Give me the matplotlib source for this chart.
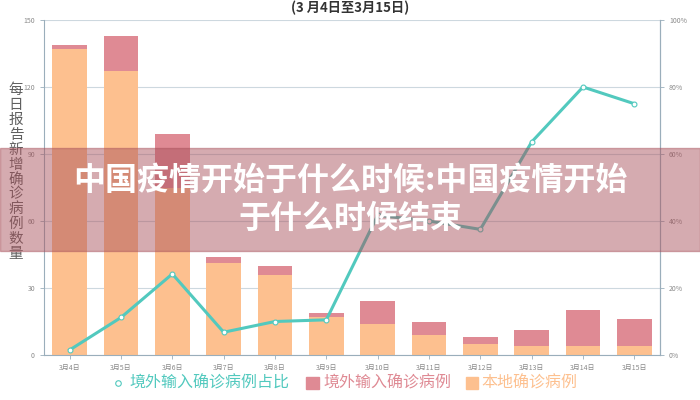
import matplotlib
matplotlib.use("Agg")
import matplotlib.pyplot as plt
from matplotlib.patches import Rectangle
from matplotlib.lines import Line2D
from matplotlib.ticker import FuncFormatter

plt.rcParams['font.family'] = ['Noto Sans CJK SC', 'DejaVu Sans']

dates = ["3月4日", "3月5日", "3月6日", "3月7日", "3月8日", "3月9日",
         "3月10日", "3月11日", "3月12日", "3月13日", "3月14日", "3月15日"]
local_cases = [137, 127, 75, 41, 36, 17, 14, 9, 5, 4, 4, 4]
imported_cases = [2, 16, 24, 3, 4, 2, 10, 6, 3, 7, 16, 12]
imported_share = [1.5, 11.2, 24.2, 6.8, 10.0, 10.5, 41.7, 40.0, 37.5, 63.6, 80.0, 75.0]
left_ticks = [0, 30, 60, 90, 120, 150]
right_ticks = [0, 20, 40, 60, 80, 100]

c_local = "#FDC08F"
c_imp = "#DF8A94"
c_line = "#52C9BE"
c_grid = "#CDD8DF"
c_axis = "#9AAEBB"
c_tick = "#8A8A8A"

fig = plt.figure(figsize=(7, 4), dpi=100)
ax = fig.add_axes([44/700, 1-355/400, (660-44)/700, (355-20)/400])
x = list(range(len(dates)))
ax.bar(x, local_cases, width=0.68, color=c_local, zorder=2)
ax.bar(x, imported_cases, bottom=local_cases, width=0.68, color=c_imp, zorder=2)
ax.set_xlim(-0.5, len(dates)-0.5)
ax.set_ylim(0, 150)
ax.set_yticks(left_ticks)
ax.set_xticks(x)
ax.set_xticklabels(dates)
ax.tick_params(axis='both', labelsize=5, colors=c_tick, length=3, width=0.6)
ax.tick_params(axis='y', colors=c_axis, labelcolor=c_tick)
ax.tick_params(axis='x', colors=c_axis, labelcolor=c_tick)
ax.grid(axis='y', color=c_grid, linewidth=0.8, zorder=0)
ax.set_axisbelow(True)
ax.spines['top'].set_visible(False)
for s in ['left', 'right', 'bottom']:
    ax.spines[s].set_color(c_axis)
    ax.spines[s].set_linewidth(0.8)

ax2 = ax.twinx()
ax2.plot(x, imported_share, color=c_line, linewidth=2.2, marker='o', markersize=3.5,
         markerfacecolor='white', markeredgecolor=c_line, markeredgewidth=0.8, zorder=3)
ax2.set_ylim(0, 100)
ax2.set_yticks(right_ticks)
ax2.yaxis.set_major_formatter(FuncFormatter(lambda v, p: f"{int(v)}%"))
ax2.tick_params(axis='y', labelsize=5, colors=c_axis, labelcolor=c_tick, length=3, width=0.6)
ax2.spines['top'].set_visible(False)
ax2.spines['left'].set_visible(False)
ax2.spines['bottom'].set_visible(False)
ax2.spines['right'].set_color(c_axis)
ax2.spines['right'].set_linewidth(0.8)

# vertical y label
fig.text(16/700, 1-172/400, "\n".join("每日报告新增确诊病例数量"), ha='center', va='center',
         fontsize=10.5, color="#606060", linespacing=1.08)

# title (partly cut in reference)
fig.text(350/700, 1-0.5/400, "(3 月4日至3月15日)", ha='center', va='top',
         fontsize=9.5, fontweight='bold', color="#333333")

# legend
ly = 1-383/400
fig.lines.append(Line2D([118/700], [ly], transform=fig.transFigure, marker='o', markersize=4,
                        markerfacecolor='white', markeredgecolor=c_line, markeredgewidth=0.8,
                        linestyle='none'))
fig.text(129/700, ly, "境外输入确诊病例占比", ha='left', va='center', fontsize=11.5, color=c_line)
fig.patches.append(Rectangle((306/700, ly-6/400), 13/700, 12/400, transform=fig.transFigure,
                             color=c_imp))
fig.text(323/700, ly, "境外输入确诊病例", ha='left', va='center', fontsize=11.5, color=c_imp)
fig.patches.append(Rectangle((466/700, ly-6/400), 12/700, 12/400, transform=fig.transFigure,
                             color=c_local))
fig.text(481/700, ly, "本地确诊病例", ha='left', va='center', fontsize=11.5, color=c_local)

# overlay band
fig.patches.append(Rectangle((0, 1-251/400), 1, (251-148)/400, transform=fig.transFigure,
                             color="#A8505A", alpha=0.48, zorder=10))
fig.text(0.5, 1-200/400, "中国疫情开始于什么时候:中国疫情开始\n于什么时候结束", ha='center',
         va='center', fontsize=23, fontweight='bold', color='white', linespacing=1.25, zorder=11)

fig.savefig("out.png", dpi=100)
